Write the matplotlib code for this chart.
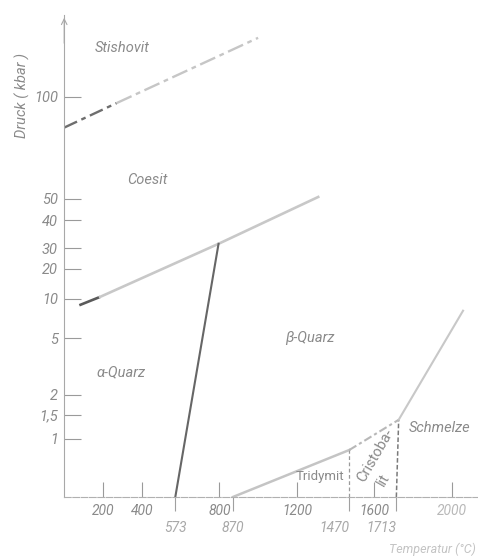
import numpy as np
import matplotlib
matplotlib.use("Agg")
import matplotlib.pyplot as plt

plt.rcParams["font.family"] = ["Roboto", "DejaVu Sans"]
plt.rcParams["font.style"] = "italic"

# pressure ruler used on the diagram (kbar -> height along the axis)
p_marks = [0, 1, 1.5, 2, 5, 10, 20, 30, 40, 50, 100, 200]
p_ruler = [0, 58, 82, 102, 159, 198, 228, 249, 277, 298, 400, 604]

p_ticks = [1, 1.5, 2, 5, 10, 20, 30, 40, 50, 100]
p_labels = ["1", "1,5", "2", "5", "10", "20", "30", "40", "50", "100"]
t_ticks = [200, 400, 800, 1200, 1600, 2000]
t_labels = ["200", "400", "800", "1200", "1600", "2000"]
t_points = [573, 870, 1470, 1713]
t_point_labels = ["573", "870", "1470", "1713"]

# phase boundaries, T in degC, P in kbar
stish_T = [0, 270, 1000]
stish_P = [85, 97, 129]
coes_T = [78, 185, 796, 1310]
coes_P = [9.2, 10.7, 31.5, 51]
ab_T = [573, 796]
ab_P = [0, 31.5]
trid_T = [870, 1470]
trid_P = [0, 0.81]
trcr_T = [1470, 1470]
trcr_P = [0, 0.81]
cris_T = [1470, 1725]
cris_P = [0.81, 1.4]
crme_T = [1713, 1725]
crme_P = [0, 1.4]
melt_T = [1725, 2057]
melt_P = [1.4, 8.5]


def fwd(p):
    return np.interp(p, p_marks, p_ruler)


def inv(h):
    return np.interp(h, p_ruler, p_marks)


fig = plt.figure(figsize=(4.78, 5.59), dpi=100)
ax = fig.add_axes([64.2 / 478, 62 / 559, (478 - 64.2) / 478, 482 / 559])
ax.set_yscale("function", functions=(fwd, inv))
ax.set_xlim(0, (478 - 64.2) / 0.1939)
ax.set_ylim(0, inv(482))

for s in ["top", "right"]:
    ax.spines[s].set_visible(False)
ax.spines["left"].set_color("#a8a8a8")
ax.spines["left"].set_linewidth(0.8)
ax.spines["bottom"].set_color("#b0b0b0")
ax.spines["bottom"].set_linewidth(0.8)
ax.spines["bottom"].set_linestyle((0, (6, 1.5)))

txt = "#8a8a8a"
ax.set_yticks(p_ticks, p_labels)
ax.tick_params(axis="y", direction="in", length=12.2, width=0.8, color="#9a9a9a",
               labelsize=10.5, labelcolor=txt, pad=4.5)
ax.set_xticks(t_ticks, t_labels)
ax.tick_params(axis="x", which="major", direction="in", length=10.8, width=0.8,
               color="#9a9a9a", labelsize=10, labelcolor=txt, pad=5)
ax.set_xticks(t_points, t_point_labels, minor=True)
ax.tick_params(axis="x", which="minor", direction="out", length=10, width=0.8,
               color="#a0a0a0", labelsize=10, labelcolor="#a8a8a8", pad=7)
for lab in ax.get_xticklabels(minor=True)[2:]:
    lab.set_horizontalalignment("right")
ax.get_xticklabels()[-1].set_color("#b8b8b8")

# axis arrow
ax.annotate("", xy=(0, inv(482)), xytext=(0, 125), xycoords="data",
            arrowprops=dict(arrowstyle="->", color="#a8a8a8", lw=0.8),
            annotation_clip=False)

# phase boundaries
ax.plot(stish_T[:2], stish_P[:2], color="#6e6e6e", lw=1.7, ls=(0, (6, 2, 2, 2)))
ax.plot(stish_T[1:], stish_P[1:], color="#c6c6c6", lw=1.7, ls=(0, (7, 2, 2, 2)))
ax.plot(coes_T[:2], coes_P[:2], color="#5a5a5a", lw=1.9, solid_capstyle="butt")
ax.plot(coes_T[1:], coes_P[1:], color="#c8c8c8", lw=1.9)
ax.plot(ab_T, ab_P, color="#666666", lw=1.5)
ax.plot(trid_T, trid_P, color="#c4c4c4", lw=1.8)
ax.plot(trcr_T, trcr_P, color="#9a9a9a", lw=0.9, ls=(0, (3, 2)))
ax.plot(cris_T, cris_P, color="#b8b8b8", lw=1.5, ls=(0, (4, 1.5, 1.5, 1.5)))
ax.plot(crme_T, crme_P, color="#7a7a7a", lw=1.1, ls=(0, (3, 1.5)))
ax.plot(melt_T, melt_P, color="#c8c8c8", lw=1.5)

# phase fields
kw = dict(color=txt, fontsize=10.5, ha="center", va="center")
ax.text(298, 124, "Stishovit", **kw)
ax.text(427, 59.3, "Coesit", **kw)
ax.text(293, 3.2, "α-Quarz", **kw)
ax.text(1268, 5, "β-Quarz", **kw)
ax.text(1319, 0.36, "Tridymit", color=txt, fontsize=9.5, style="normal",
        ha="center", va="center")
ax.text(1605, 0.72, "Cristoba-", color=txt, fontsize=10.5, style="normal",
        rotation=60, ha="center", va="center")
ax.text(1648, 0.3, "lit", color=txt, fontsize=10.5, style="normal",
        rotation=60, ha="center", va="center")
ax.text(1938, 1.23, "Schmelze", **kw)

fig.text(22 / 478, 1 - 95 / 559, "Druck ( kbar )", rotation=90, color=txt,
         fontsize=10.5, ha="center", va="center")
fig.text(476 / 478, 1 - 549 / 559, "Temperatur (°C)", color="#c4c4c4",
         fontsize=9, ha="right", va="center")

fig.savefig("out.png", dpi=100)
